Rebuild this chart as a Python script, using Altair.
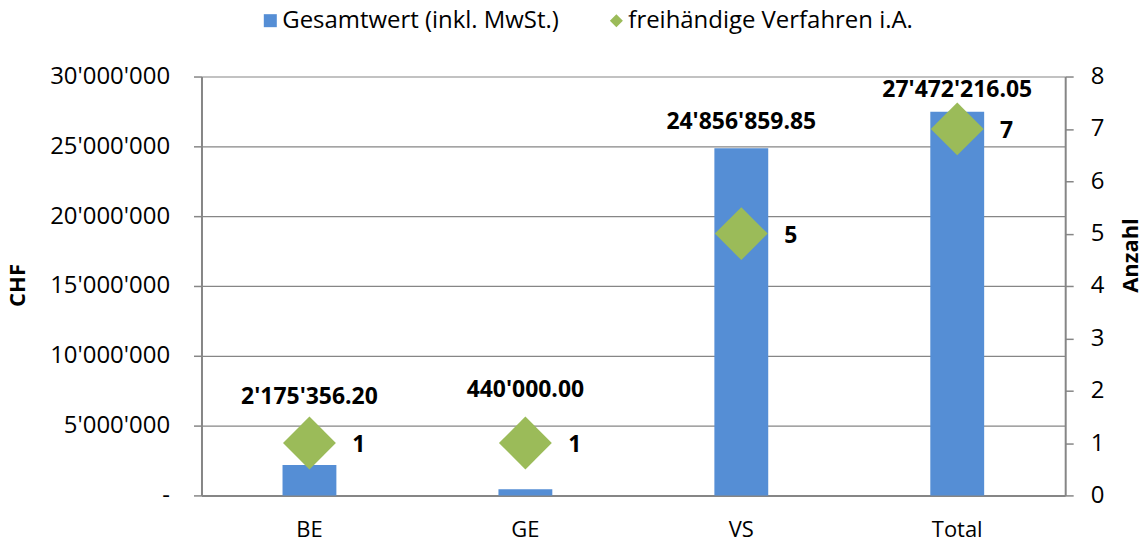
import altair as alt
import pandas as pd

# ---- data ----
categories = ["BE", "GE", "VS", "Total"]
totals_chf = [2175356.20, 440000.00, 24856859.85, 27472216.05]
counts = [1, 1, 5, 7]

series_names = ["Gesamtwert (inkl. MwSt.)", "freihändige Verfahren i.A."]

# styling: how far (px) each value label sits above its bar top
label_lift_px = [68, 100, 26, 22]

FONT = "Open Sans"
BLUE = "#558ED5"
GREEN = "#9BBB59"
GRAY = "#868686"

W, H = 866, 420
CHF_MAX = 30000000
N_MAX = 8


def swiss(v, dec=2):
    return f"{v:,.{dec}f}".replace(",", "'")


df = pd.DataFrame({
    "cat": categories,
    "value": totals_chf,
    "count": counts,
    "lift": label_lift_px,
    "series_bar": series_names[0],
    "series_pt": series_names[1],
})
df["value_label"] = [swiss(v) for v in totals_chf]
df["count_label"] = [str(c) for c in counts]

x_axis = alt.Axis(
    title=None, ticks=False, labelFontSize=22, labelFont=FONT,
    labelColor="#000000", labelPadding=34, labelBaseline="middle",
    domainColor=GRAY, domainWidth=2, labelAngle=0,
)
x_enc = alt.X("cat:N", sort=categories,
              scale=alt.Scale(paddingInner=0, paddingOuter=0), axis=x_axis)

color_scale = alt.Scale(domain=series_names, range=[BLUE, GREEN])
shape_scale = alt.Scale(domain=series_names, range=["square", "diamond"])

legend = alt.Legend(
    title=None, orient="none", legendX=57, legendY=-68, direction="horizontal",
    labelFont=FONT, labelFontSize=24, labelColor="#000000", symbolSize=170,
    symbolStrokeWidth=0, labelOffset=0, columnPadding=45, labelLimit=0,
)

chf_axis = alt.Axis(
    title="CHF", titleFont=FONT, titleFontSize=22, titleFontWeight="bold",
    titleColor="#000000", titleAngle=270, titleX=-184, titleY=209,
    titleAlign="center", titleBaseline="middle",
    values=[0, 5000000, 10000000, 15000000, 20000000, 25000000, 30000000],
    labelExpr="datum.value == 0 ? '-' : replace(replace(format(datum.value, ','), ',', \"'\"), ',', \"'\")",
    labelFont=FONT, labelFontSize=24, labelColor="#000000", labelPadding=24,
    tickSize=8, tickColor=GRAY, tickWidth=1.5,
    domainColor=GRAY, domainWidth=2,
    grid=True, gridColor=GRAY, gridWidth=1.2,
)

n_axis = alt.Axis(
    title="Anzahl", orient="right", titleFont=FONT, titleFontSize=22,
    titleFontWeight="bold", titleColor="#000000", titleAngle=270,
    titleX=65, titleY=179, titleAlign="center", titleBaseline="middle",
    values=list(range(0, 9)), format="d",
    labelFont=FONT, labelFontSize=24, labelColor="#000000", labelPadding=17,
    tickSize=8, tickColor=GRAY, tickWidth=1.5,
    domainColor=GRAY, domainWidth=2, grid=False,
)

chf_scale = alt.Scale(domain=[0, CHF_MAX], nice=False)
n_scale = alt.Scale(domain=[0, N_MAX], nice=False)

base = alt.Chart(df)

bars = base.mark_bar(size=54).encode(
    x=x_enc,
    y=alt.Y("value:Q", scale=chf_scale, axis=chf_axis),
    color=alt.Color("series_bar:N", scale=color_scale, legend=legend),
)

value_text = base.transform_calculate(
    ypos=f"datum.value + datum.lift * {CHF_MAX} / {H}"
).mark_text(
    font=FONT, fontSize=23, fontWeight="bold", color="#000000",
    baseline="middle", align="center",
).encode(
    x=x_enc,
    y=alt.Y("ypos:Q", scale=chf_scale, axis=chf_axis),
    text="value_label:N",
)

left = alt.layer(bars, value_text)

diamonds = base.mark_point(filled=True, size=2809, opacity=1).encode(
    x=x_enc,
    y=alt.Y("count:Q", scale=n_scale, axis=n_axis),
    color=alt.Color("series_pt:N", scale=color_scale, legend=legend),
    shape=alt.Shape("series_pt:N", scale=shape_scale, legend=legend),
)

count_text = base.mark_text(
    font=FONT, fontSize=23, fontWeight="bold", color="#000000",
    baseline="middle", align="left", dx=43, dy=2,
).encode(
    x=x_enc,
    y=alt.Y("count:Q", scale=n_scale, axis=n_axis),
    text="count_label:N",
)

right = alt.layer(diamonds, count_text)

chart = alt.layer(left, right).resolve_scale(y="independent").properties(
    width=W, height=H,
    autosize=alt.AutoSizeParams(type="none"),
    padding={"left": 194, "top": 68, "right": 74, "bottom": 46},
    background="white",
).configure_view(stroke=None)

chart.save("out.html", embed_options={"renderer": "svg", "actions": False})
